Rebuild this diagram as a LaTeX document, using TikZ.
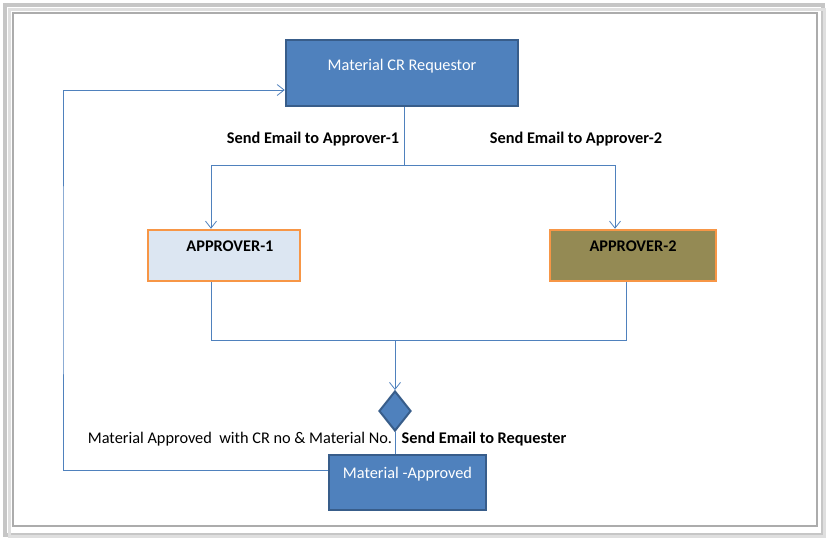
\documentclass[tikz,border=0pt]{standalone}
\usepackage{fontspec}
\setmainfont{Carlito}
\usetikzlibrary{positioning}
\usetikzlibrary{shapes.geometric}
\usetikzlibrary{arrows.meta}

\definecolor{boxblue}{HTML}{4F81BD}
\definecolor{edgeblue}{HTML}{385D8A}
\definecolor{paleblue}{HTML}{DCE6F2}
\definecolor{apporange}{HTML}{F79646}
\definecolor{olive}{HTML}{948A54}

\begin{document}
\begin{tikzpicture}[x=1pt,y=-1pt,
  bluebox/.style={draw=edgeblue, line width=2.5pt, fill=boxblue, text=white, inner sep=0pt, font=\fontsize{16.3}{19}\selectfont},
  apprbox/.style={draw=apporange, line width=2.5pt, inner sep=0pt, font=\fontsize{16.3}{19}\selectfont\bfseries},
  link/.style={boxblue, line width=0.8pt},
  arr/.style={link, -{Straight Barb[length=7pt,width=11pt]}},
  note/.style={font=\fontsize{16.3}{19}\selectfont},
  boldnote/.style={font=\fontsize{16.3}{19}\selectfont\bfseries}]
\useasboundingbox (0,0) rectangle (829,542);
%frame
\draw[gray!45, line width=4pt] (5,5) rectangle (823,535);
\draw[gray!25, line width=3pt] (9,9) rectangle (824,536);
\fill[white] (11,11) rectangle (819,529);
\draw[gray!65, line width=2.5pt] (13,13) rectangle (817,526);
%nodes
\node[bluebox, minimum width=232pt, text height=30pt, text depth=36pt] (req) at (402,73) {Material CR Requestor};
\node[apprbox, fill=paleblue, minimum width=152pt, text height=21pt, text depth=30pt] (ap1) at (224,255.5) {\hspace*{12pt}APPROVER-1};
\node[apprbox, fill=olive, minimum width=166pt, text height=21pt, text depth=30pt] (ap2) at (633,255.5) {APPROVER-2};
\node[diamond, draw=edgeblue, line width=2pt, fill=boxblue, minimum width=32pt, minimum height=40pt, inner sep=0pt] (dec) at (395,411) {};
\node[bluebox, minimum width=157pt, text height=23pt, text depth=32pt] (done) at (407.5,482.5) {Material -Approved};
%coordinates
\coordinate (split) at (404,165);
\coordinate (merge) at (395,340);
\coordinate (loop) at (63,280);
%links
\draw[link] (split |- req.south) -- (split);
\draw[arr] (split) -| ([xshift=-13pt]ap1.north);
\draw[arr] (split) -| ([xshift=-18pt]ap2.north);
\draw[link] ([xshift=-13pt]ap1.south) |- (merge);
\draw[link] ([xshift=-7pt]ap2.south) |- (merge);
\draw[arr] (merge) -- (dec.north);
\draw[link] (dec.south) -- (dec.south |- done.north);
\draw[arr] ([yshift=12.5pt]done.west) -| (loop) |- ([yshift=-17pt]req.west);
%labels
\node[boldnote] (mail1) at (313,139) {Send Email to Approver-1};
\node[boldnote] (mail2) at (576,139) {Send Email to Approver-2};
\node[note] (info) at (240,439) {Material Approved\ \ with CR no \& Material No.};
\node[boldnote] (mail3) at (484,439) {Send Email to Requester};
\end{tikzpicture}
\end{document}
